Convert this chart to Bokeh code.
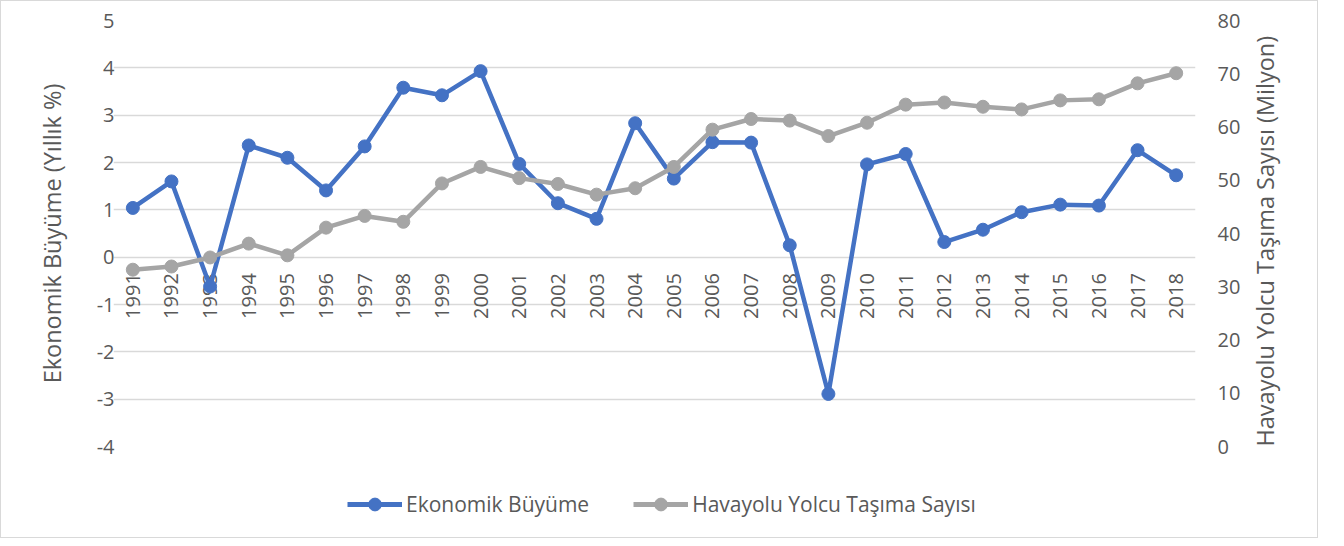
import math
from bokeh.plotting import figure
from bokeh.layouts import column
from bokeh.models import (Range1d, LinearAxis, FixedTicker, Legend, LegendItem,
                          FactorRange, ColumnDataSource, CustomJSTickFormatter)
from bokeh.core.properties import value
from bokeh.embed import file_html
from bokeh.resources import INLINE

years = ["1991", "1992", "1993", "1994", "1995", "1996", "1997", "1998", "1999", "2000",
         "2001", "2002", "2003", "2004", "2005", "2006", "2007", "2008", "2009", "2010",
         "2011", "2012", "2013", "2014", "2015", "2016", "2017", "2018"]
growth = [1.04, 1.60, -0.62, 2.36, 2.10, 1.41, 2.34, 3.58, 3.42, 3.93,
          1.97, 1.14, 0.81, 2.83, 1.66, 2.43, 2.42, 0.25, -2.89, 1.96,
          2.18, 0.32, 0.58, 0.95, 1.11, 1.09, 2.26, 1.73]
passengers = [33.2, 33.8, 35.5, 38.1, 35.9, 41.1, 43.3, 42.2, 49.4, 52.5,
              50.4, 49.3, 47.3, 48.5, 52.5, 59.5, 61.5, 61.2, 58.3, 60.8,
              64.2, 64.6, 63.8, 63.3, 65.0, 65.2, 68.2, 70.1]
left_ticks = [-4, -3, -2, -1, 0, 1, 2, 3, 4, 5]
right_ticks = [0, 10, 20, 30, 40, 50, 60, 70, 80]
x_axis_cross = 0  # category axis crosses the left value axis at 0

FONT = "Open Sans"
TXT = "#595959"
BLUE = "#4472C4"
GRAY = "#A5A5A5"

src = ColumnDataSource(data=dict(year=years, growth=growth, passengers=passengers,
                                 cross=[x_axis_cross] * len(years)))

p = figure(x_range=FactorRange(*years, range_padding=0), y_range=Range1d(-4, 5),
           frame_width=1082, frame_height=426,
           min_border_left=112, min_border_right=122, min_border_top=19, min_border_bottom=30,
           output_backend="svg", toolbar_location=None)
p.extra_y_ranges = {"right": Range1d(0, 80)}
p.outline_line_color = None
p.background_fill_color = "white"
p.border_fill_color = "white"

p.xgrid.visible = False
p.ygrid.grid_line_color = "#D9D9D9"
p.ygrid.grid_line_width = 1.5

fmt = CustomJSTickFormatter(code="return String(tick);")

# left axis
ly = p.left[0]
ly.ticker = FixedTicker(ticks=left_ticks)
ly.formatter = fmt
ly.axis_label = "Ekonomik Büyüme (Yıllık %)"
# right axis
ry = LinearAxis(y_range_name="right", ticker=FixedTicker(ticks=right_ticks), formatter=fmt,
                axis_label="Havayolu Yolcu Taşıma Sayısı (Milyon)")
p.add_layout(ry, "right")
ry.axis_label_orientation = math.pi / 2
try:
    ry.axis_label_align = "start"
except AttributeError:
    pass

for ax, st, lst in ((ly, -1, 26), (ry, 22, 22)):
    ax.axis_line_color = None
    ax.major_tick_line_color = None
    ax.minor_tick_line_color = None
    ax.major_tick_out = 0
    ax.major_tick_in = 0
    ax.major_label_standoff = st
    ax.major_label_text_font = FONT
    ax.major_label_text_font_size = "20px"
    ax.major_label_text_color = TXT
    ax.axis_label_text_font = FONT
    ax.axis_label_text_font_size = "23.5px"
    ax.axis_label_text_font_style = "normal"
    ax.axis_label_text_color = TXT
    ax.axis_label_standoff = lst

# category axis drawn where it crosses 0: labels under the 0 line
p.below[0].visible = False
p.text(x="year", y="cross", text="year", source=src, angle=math.pi / 2,
       text_align="right", text_baseline="middle", y_offset=16,
       text_font=value(FONT), text_font_size=value("20px"), text_color=TXT)

p.line("year", "growth", source=src, line_color=BLUE, line_width=4.5)
p.scatter("year", "growth", source=src, size=13, fill_color=BLUE, line_color=BLUE)
p.line("year", "passengers", source=src, y_range_name="right", line_color=GRAY, line_width=4.5)
p.scatter("year", "passengers", source=src, y_range_name="right", size=13,
          fill_color=GRAY, line_color=GRAY)

# legend strip under the chart (its helper renderers lie outside its empty view)
p2 = figure(x_range=FactorRange(*years), y_range=Range1d(100, 101),
            frame_width=1316, frame_height=61,
            min_border=0, output_backend="svg", toolbar_location=None)
p2.axis.visible = False
p2.grid.visible = False
p2.outline_line_color = None
l1 = p2.line("year", "growth", source=src, line_color=BLUE, line_width=5)
m1 = p2.scatter("year", "growth", source=src, size=13, fill_color=BLUE, line_color=BLUE)
l2 = p2.line("year", "growth", source=src, line_color=GRAY, line_width=5)
m2 = p2.scatter("year", "growth", source=src, size=13, fill_color=GRAY, line_color=GRAY)
legend = Legend(items=[LegendItem(label="Ekonomik Büyüme", renderers=[l1, m1]),
                       LegendItem(label="Havayolu Yolcu Taşıma Sayısı", renderers=[l2, m2])],
                orientation="horizontal", location=(346, 17),
                glyph_width=55, glyph_height=32, spacing=44, label_standoff=4,
                padding=0, margin=0, border_line_color=None, background_fill_alpha=0,
                label_text_font=FONT, label_text_font_size="21px", label_text_color=TXT)
p2.add_layout(legend)

lay = column(p, p2, spacing=0, styles={"border": "1px solid #D9D9D9"})
open("out.html", "w").write(file_html(lay, INLINE))
